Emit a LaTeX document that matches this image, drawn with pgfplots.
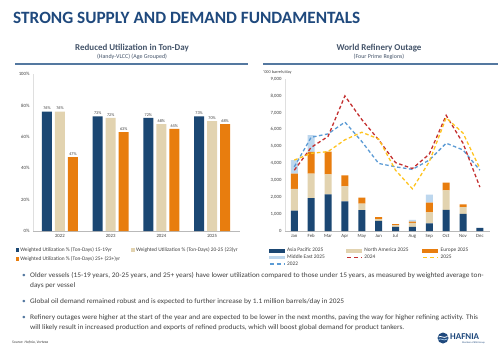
\documentclass[border=0pt]{standalone}
\usepackage{fontspec}
\setmainfont{Carlito}
\newfontfamily\wide[FakeStretch=1.06]{Carlito}
\usepackage{pgfplots}
\pgfplotsset{compat=1.18}
\definecolor{dblue}{RGB}{27,71,115}
\definecolor{beige}{RGB}{226,211,176}
\definecolor{orng}{RGB}{232,125,14}
\definecolor{lblue}{RGB}{189,215,238}
\definecolor{l22}{RGB}{91,155,213}
\definecolor{l24}{RGB}{196,48,48}
\definecolor{l25}{RGB}{255,196,30}
\definecolor{ttl}{RGB}{31,73,125}
\definecolor{sub}{RGB}{68,84,106}
\definecolor{hline}{RGB}{84,120,160}
\definecolor{txt}{RGB}{64,64,64}
\pgfplotstableread{
x ap na eu me y22 y24 y25
0 1200 1300 900 800 3800 3600 4200
1 1950 1450 1280 1000 5550 4950 4600
2 2170 1180 1350 0 5750 5600 4700
3 1750 890 660 0 6450 8000 5400
4 1240 380 350 0 5300 6600 5850
5 600 100 120 0 4000 5400 5450
6 250 80 80 0 3800 4050 3600
7 250 230 80 100 3650 3700 2500
8 450 650 580 470 4200 4550 4100
9 1250 1150 470 0 5200 6850 6700
10 1020 400 160 0 4800 5200 5800
11 180 0 0 0 3600 2600 3700
}\refinery
\begin{document}
\begin{tikzpicture}
\begin{scope}[x=1bp,y=1bp]
\path[use as bounding box, fill=white] (0,0) rectangle (500,-346);
% title
\node[anchor=west, font=\bfseries\fontsize{17.3}{17.3}\selectfont, color=ttl, inner sep=0] at (13,-18) {STRONG SUPPLY AND DEMAND FUNDAMENTALS};
% subtitles
\node[font=\bfseries\fontsize{9}{9}\selectfont, color=sub, inner sep=0] at (132,-48) {Reduced Utilization in Ton-Day};
\node[font=\fontsize{6}{6}\selectfont, color=sub, inner sep=0] at (132,-57) {(Handy-VLCC) (Age Grouped)};
\node[font=\bfseries\fontsize{9}{9}\selectfont, color=sub, inner sep=0] at (379,-48) {World Refinery Outage};
\node[font=\fontsize{6}{6}\selectfont, color=sub, inner sep=0] at (379,-57) {(Four Prime Regions)};
\draw[hline, line width=1.1bp] (15,-64) -- (248,-64);
\draw[hline, line width=1.1bp] (263,-64) -- (498,-64);
\node[anchor=west, font=\fontsize{4.3}{4.3}\selectfont, color=txt, inner sep=0] at (263,-72) {'000 barrels/day};
% bullets
\begin{scope}[every node/.style={anchor=west, inner sep=0, font=\wide\fontsize{7}{7}\selectfont, color=txt}]
\node[color=hline] at (22,-276) {\textbullet};
\node at (30,-276) {Older vessels (15-19 years, 20-25 years, and 25+ years) have lower utilization compared to those under 15 years, as measured by weighted average ton-};
\node at (30,-286) {days per vessel};
\node[color=hline] at (22,-302) {\textbullet};
\node at (30,-302) {Global oil demand remained robust and is expected to further increase by 1.1 million barrels/day in 2025};
\node[color=hline] at (22,-318) {\textbullet};
\node at (30,-318) {Refinery outages were higher at the start of the year and are expected to be lower in the next months, paving the way for higher refining activity. This};
\node at (30,-327.5) {will likely result in increased production and exports of refined products, which will boost global demand for product tankers.};
\end{scope}
\node[anchor=west, inner sep=0, font=\itshape\fontsize{3.8}{4}\selectfont, color=txt] at (12,-342) {Source: Hafnia, Vortexa};
% logo
\fill[ttl] (443,-338) circle (5.5);
\draw[white, line width=0.8bp] (438.5,-337) .. controls (441,-335) and (443,-339) .. (447.5,-336.5);
\draw[l22!60!white, line width=0.8bp] (438.5,-339.5) .. controls (441,-337.5) and (443,-341.5) .. (447.5,-339);
\node[anchor=west, inner sep=0, font=\bfseries\fontsize{9}{9}\selectfont, color=ttl] at (450,-336.5) {HAFNIA};
\node[anchor=west, inner sep=0, font=\fontsize{2.5}{3}\selectfont, color=ttl] at (462,-342.5) {Member of BW Group};
\end{scope}

% left chart
\begin{axis}[
 at={(33bp,-231bp)}, anchor=south west,
 scale only axis, width=207bp, height=157bp,
 xmin=-0.53, xmax=3.55, ymin=0, ymax=100,
 ybar=3bp, bar width=10bp,
 axis lines*=left,
 x axis line style={draw=gray!55, line width=0.6bp},
 y axis line style={draw=gray!25, line width=0.6bp},
 major tick length=0pt,
 xtick={0,1,2,3}, xticklabels={2022,2023,2024,2025},
 ytick={0,20,40,60,80,100},
 yticklabel={\pgfmathprintnumber{\tick}\%},
 ticklabel style={font=\fontsize{4.8}{5}\selectfont, color=txt},
 /pgf/number format/assume math mode=true,
 nodes near coords={\pgfmathprintnumber{\pgfplotspointmeta}\%},
 every node near coord/.append style={font=\fontsize{4.2}{4.2}\selectfont, color=txt, inner sep=1.5bp},
 legend columns=2,
 legend cell align=left,
 legend style={at={(-0.085,-0.096)}, anchor=north west, draw=none, fill=none,
   font=\fontsize{5.4}{5.4}\selectfont, text=txt, row sep=1.5bp, inner sep=0pt,
   nodes={inner sep=1bp},
   /tikz/every odd column/.append style={column sep=0.5bp}},
 legend image code/.code={\fill[#1] (0bp,-1.6bp) rectangle (3.2bp,1.6bp);},
]
\addplot[fill=dblue, draw=none] coordinates {(0,76)(1,73)(2,72)(3,73)};
\addlegendentry{\makebox[110bp][l]{Weighted Utilization \% (Ton-Days) 15-19yr}}
\addplot[fill=beige, draw=none] coordinates {(0,76)(1,72)(2,68)(3,70)};
\addlegendentry{Weighted Utilization \% (Ton-Days) 20-25 (23)yr}
\addplot[fill=orng, draw=none] coordinates {(0,47)(1,63)(2,65)(3,68)};
\addlegendentry{Weighted Utilization \% (Ton-Days) 25+ (23+)yr}
\end{axis}

% right chart - bars
\begin{axis}[
 at={(285bp,-231bp)}, anchor=south west,
 scale only axis, width=205bp, height=152bp,
 xmin=-0.55, xmax=11.6, ymin=0, ymax=9000,
 ybar stacked, bar width=7bp,
 axis lines*=left,
 x axis line style={draw=gray!55, line width=0.6bp},
 y axis line style={draw=gray!25, line width=0.6bp},
 major tick length=0pt,
 xtick={0,...,11}, xticklabels={Jan,Feb,Mar,Apr,May,Jun,Jul,Aug,Sep,Oct,Nov,Dec},
 ytick={0,1000,...,9000},
 scaled y ticks=false,
 /pgf/number format/1000 sep={,},
 /pgf/number format/assume math mode=true,
 ticklabel style={font=\fontsize{4.8}{5}\selectfont, color=txt},
 legend columns=3,
 legend cell align=left,
 legend style={at={(-0.08,-0.105)}, anchor=north west, draw=none, fill=none,
   font=\fontsize{5.4}{5.4}\selectfont, text=txt, row sep=-0.5bp, inner sep=0pt,
   nodes={inner sep=1bp},
   /tikz/every odd column/.append style={column sep=0.5bp}},
 legend image code/.code={\fill[#1] (0bp,-1.8bp) rectangle (16bp,1.8bp);},
]
\addplot[fill=dblue, draw=none] table[x=x, y=ap] {\refinery};
\addlegendentry{\makebox[58bp][l]{Asia Pacific 2025}}
\addplot[fill=beige, draw=none] table[x=x, y=na] {\refinery};
\addlegendentry{\makebox[57bp][l]{North America 2025}}
\addplot[fill=orng, draw=none] table[x=x, y=eu] {\refinery};
\addlegendentry{Europe 2025}
\addplot[fill=lblue, draw=none] table[x=x, y=me] {\refinery};
\addlegendentry{Middle East 2025}
\addlegendimage{legend image code/.code={\draw[l24, line width=1.6bp, dash pattern=on 4bp off 3bp] (1bp,0bp) -- (16bp,0bp);}}
\addlegendentry{2024}
\addlegendimage{legend image code/.code={\draw[l25, line width=1.6bp, dash pattern=on 4bp off 3bp] (1bp,0bp) -- (16bp,0bp);}}
\addlegendentry{2025}
\addlegendimage{legend image code/.code={\draw[l22, line width=1.6bp, dash pattern=on 4bp off 3bp] (1bp,0bp) -- (16bp,0bp);}}
\addlegendentry{2022}
\end{axis}

% right chart - lines
\begin{axis}[
 at={(285bp,-231bp)}, anchor=south west,
 scale only axis, width=205bp, height=152bp,
 xmin=-0.55, xmax=11.6, ymin=0, ymax=9000,
 hide axis,
]
\addplot[l22, line width=1.3bp, dash pattern=on 3.5bp off 2.5bp, mark=none] table[x=x, y=y22] {\refinery};
\addplot[l24, line width=1.3bp, dash pattern=on 3.5bp off 2.5bp, mark=none] table[x=x, y=y24] {\refinery};
\addplot[l25, line width=1.3bp, dash pattern=on 3.5bp off 2.5bp, mark=none] table[x=x, y=y25] {\refinery};
\end{axis}
\end{tikzpicture}
\end{document}
